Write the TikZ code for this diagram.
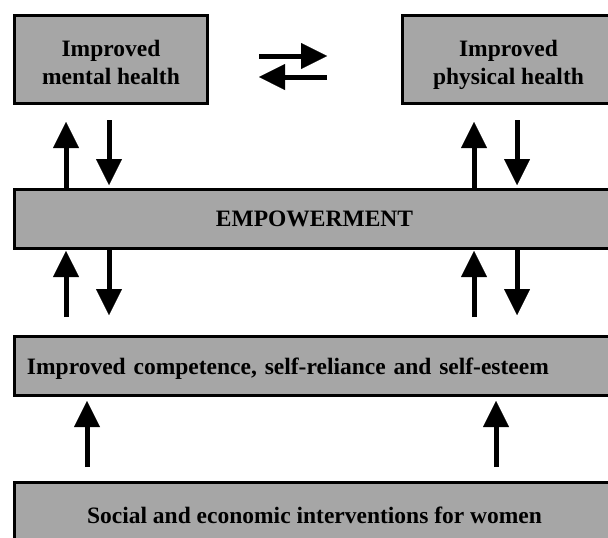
\documentclass[tikz,border=0pt]{standalone}
\usepackage{fontspec}
\setmainfont{Liberation Serif}
\usetikzlibrary{arrows.meta}
\definecolor{boxgray}{RGB}{166,166,166}
\begin{document}
\begin{tikzpicture}[x=1pt,y=-1pt,
  boxfont/.style={font=\fontsize{23.5}{28}\selectfont\bfseries},
  box/.style={draw=black, line width=3pt, fill=boxgray, outer sep=0pt, inner sep=0pt,
    boxfont, align=center},
  twoline/.style={label={[boxfont, align=center, inner sep=0pt, yshift=-3pt, text depth=0pt]center:#1}},
  arr/.style={line width=5pt, -{Triangle[length=26pt,width=26pt,line width=0.01pt]}}]
\useasboundingbox (0,0) rectangle (608,538);
\clip (0,0) rectangle (608,538);
% boxes
\node[box, minimum width=193pt, minimum height=88pt, twoline={Improved\\mental health}] (mental) at (111,59.5) {};
\node[box, minimum width=212pt, minimum height=88pt, twoline={Improved\\physical health}] (physical) at (508.5,59.5) {};
\node[box, minimum width=600pt, minimum height=59pt] (emp) at (314.5,219) {EMPOWERMENT};
\node[box, minimum width=600pt, minimum height=59pt, align=left, text width=575pt, inner xsep=12.5pt, text depth=0pt] (comp) at (314.5,366) {Improved competence, self-reliance and self-esteem};
\node[box, minimum width=600pt, minimum height=65.5pt] (social) at (314.5,515.25) {Social and economic interventions for women};
% column and row coordinates
\coordinate (cUL) at (66,0);
\coordinate (cDL) at (109,0);
\coordinate (cUR) at (474,0);
\coordinate (cDR) at (517,0);
\coordinate (cBL) at (87,0);
\coordinate (cBR) at (496,0);
\coordinate (rA) at (0,56);
\coordinate (rB) at (0,77);
% horizontal arrows
\draw[arr, shorten <=51.5pt, shorten >=75.5pt] (mental.east |- rA) -- (physical.west |- rA);
\draw[arr, shorten <=75.5pt, shorten >=51.5pt] (physical.west |- rB) -- (mental.east |- rB);
% upper arrows
\draw[arr, shorten >=18.5pt] (emp.north -| cUL) -- (mental.south -| cUL);
\draw[arr, shorten <=16.5pt, shorten >=4.5pt] (mental.south -| cDL) -- (emp.north -| cDL);
\draw[arr, shorten >=18.5pt] (emp.north -| cUR) -- (physical.south -| cUR);
\draw[arr, shorten <=16.5pt, shorten >=4.5pt] (physical.south -| cDR) -- (emp.north -| cDR);
% lower arrows
\draw[arr, shorten <=19.5pt, shorten >=2.5pt] (comp.north -| cUL) -- (emp.south -| cUL);
\draw[arr, shorten >=21.5pt] (emp.south -| cDL) -- (comp.north -| cDL);
\draw[arr, shorten <=19.5pt, shorten >=2.5pt] (comp.north -| cUR) -- (emp.south -| cUR);
\draw[arr, shorten >=21.5pt] (emp.south -| cDR) -- (comp.north -| cDR);
% bottom arrows
\draw[arr, shorten <=15.5pt, shorten >=5.5pt] (social.north -| cBL) -- (comp.south -| cBL);
\draw[arr, shorten <=15.5pt, shorten >=5.5pt] (social.north -| cBR) -- (comp.south -| cBR);
\end{tikzpicture}
\end{document}
